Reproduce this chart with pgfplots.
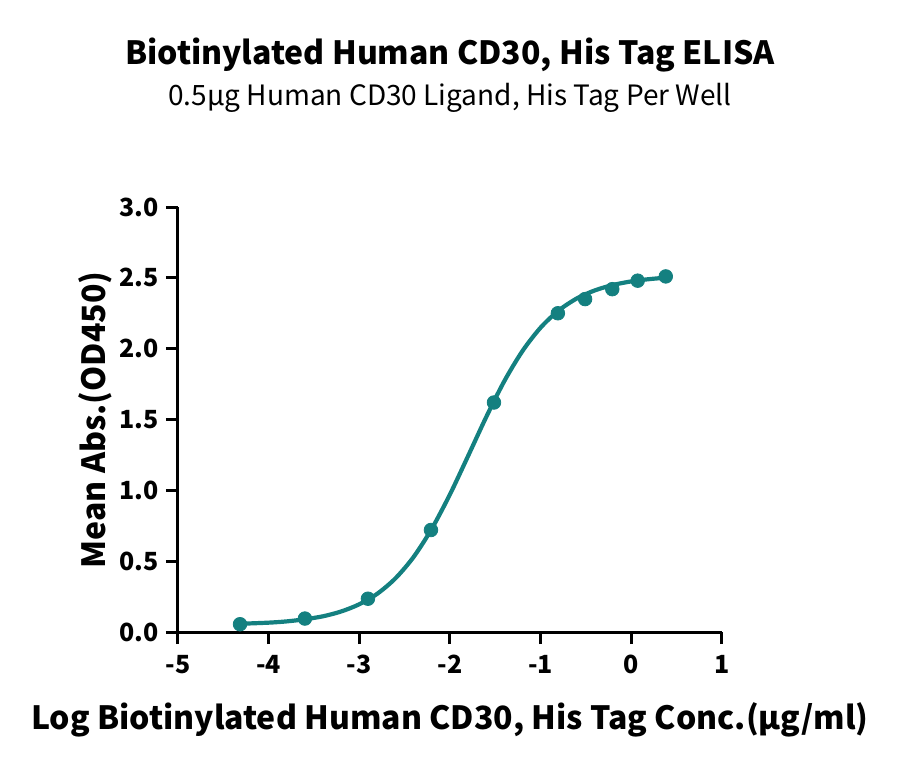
\documentclass[border=0pt]{standalone}
\usepackage{pgfplots}
\pgfplotsset{compat=1.18}
\usepackage{fontspec}
\setmainfont{Noto Sans CJK SC}
\definecolor{teal1}{RGB}{20,128,128}
\begin{document}
\begin{tikzpicture}
\useasboundingbox (-89pt,-70.5pt) rectangle (361pt,316pt);
\begin{axis}[
  at={(0pt,0pt)}, anchor=south west,
  scale only axis, width=272pt, height=212.5pt,
  xmin=-5, xmax=1, ymin=0, ymax=3,
  axis lines=left, axis line style={line width=1.5pt, -},
  xtick={-5,...,1}, ytick={0,0.5,...,3},
  yticklabel style={/pgf/number format/.cd, fixed, fixed zerofill, precision=1},
  /pgf/number format/assume math mode=true,
  tick style={line width=1.5pt, black},
  tick align=outside, major tick length=6pt,
  ticklabel style={font=\fontsize{12.5}{14}\selectfont\bfseries},
  xticklabel style={yshift=-2pt},
  clip=false,
]
\addplot[teal1, line width=2.1pt, smooth, tension=0.5] coordinates {
(-4.32,0.058) (-4.0,0.066) (-3.8,0.075) (-3.6,0.090) (-3.4,0.111)
(-3.2,0.145) (-3.0,0.196) (-2.8,0.271) (-2.6,0.380) (-2.4,0.531)
(-2.2,0.730) (-2.0,0.972) (-1.8,1.243) (-1.6,1.518) (-1.4,1.772)
(-1.2,1.984) (-1.0,2.149) (-0.8,2.270) (-0.6,2.355) (-0.4,2.412)
(-0.2,2.450) (0.0,2.475) (0.2,2.491) (0.38,2.501)
};
\addplot[teal1, only marks, mark=*, mark size=3.4pt] coordinates {
(-4.316,0.055) (-3.60,0.095) (-2.905,0.235) (-2.21,0.72) (-1.515,1.62)
(-0.81,2.25) (-0.51,2.35) (-0.21,2.42) (0.07,2.48) (0.38,2.51)
};
\end{axis}
\node[font=\fontsize{16}{18}\selectfont\bfseries] at (136pt,288.5pt) {Biotinylated Human CD30, His Tag ELISA};
\node[font=\fontsize{14}{16}\selectfont] at (136pt,267pt) {0.5μg Human CD30 Ligand, His Tag Per Well};
\node[font=\fontsize{16}{18}\selectfont\bfseries] at (136pt,-44pt) {Log Biotinylated Human CD30, His Tag Conc.(μg/ml)};
\node[font=\fontsize{16}{18}\selectfont\bfseries, rotate=90] at (-41.5pt,106pt) {Mean Abs.(OD450)};
\end{tikzpicture}
\end{document}
